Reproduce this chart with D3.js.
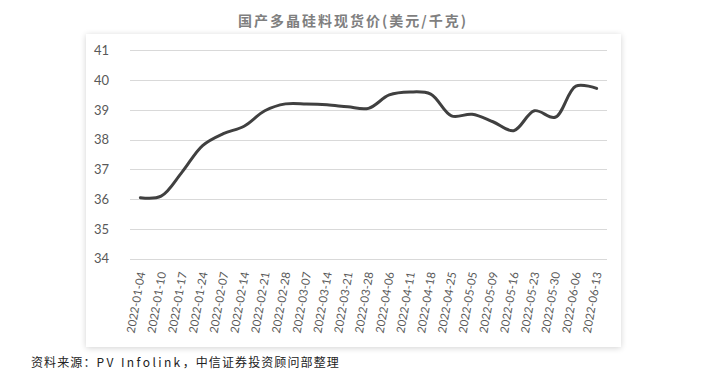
<!DOCTYPE html>
<html>
<head>
<meta charset="utf-8">
<script src="https://cdn.jsdelivr.net/npm/d3@7"></script>
<style>
  body { margin: 0; background: #fff; }
  svg { display: block; }
</style>
</head>
<body>
<svg id="chart" width="711" height="387"></svg>
<script>
  // weekly spot price, USD/kg
  var dates = ['2022-01-04', '2022-01-10', '2022-01-17', '2022-01-24', '2022-02-07', '2022-02-14',
    '2022-02-21', '2022-02-28', '2022-03-07', '2022-03-14', '2022-03-21', '2022-03-28', '2022-04-06',
    '2022-04-11', '2022-04-18', '2022-04-25', '2022-05-05', '2022-05-09', '2022-05-16', '2022-05-23',
    '2022-05-30', '2022-06-06', '2022-06-13'];
  var prices = [36.05, 36.1, 36.9, 37.8, 38.2, 38.45, 38.97, 39.2, 39.2, 39.17, 39.1, 39.05, 39.5,
    39.6, 39.53, 38.8, 38.85, 38.6, 38.3, 38.97, 38.75, 39.8, 39.72];
  var yTicks = [34, 35, 36, 37, 38, 39, 40, 41];
  var title = '国产多晶硅料现货价(美元/千克)';
  var sourceParts = ['资料来源：', 'PV Infolink', '，中信证券投资顾问部整理'];

  var svg = d3.select('#chart');

  // soft shadow for the card
  var defs = svg.append('defs');
  var f = defs.append('filter').attr('id', 'shadow')
      .attr('x', '-5%').attr('y', '-5%').attr('width', '110%').attr('height', '110%');
  f.append('feGaussianBlur').attr('in', 'SourceAlpha').attr('stdDeviation', 3);
  f.append('feOffset').attr('dx', 0).attr('dy', 1).attr('result', 'b');
  f.append('feComponentTransfer').append('feFuncA').attr('type', 'linear').attr('slope', 0.18);
  var m = f.append('feMerge');
  m.append('feMergeNode');
  m.append('feMergeNode').attr('in', 'SourceGraphic');

  svg.append('rect')
      .attr('x', 86).attr('y', 34).attr('width', 535).attr('height', 313)
      .attr('fill', '#fff').attr('filter', 'url(#shadow)');

  svg.append('text')
      .attr('x', 353).attr('y', 26)
      .attr('text-anchor', 'middle')
      .attr('font-family', '"Noto Sans CJK SC", sans-serif')
      .attr('font-size', 14).attr('font-weight', 'bold')
      .attr('letter-spacing', 2)
      .attr('fill', '#7f7f7f')
      .text(title);

  var x = d3.scaleBand().domain(dates).range([130, 607]);
  var y = d3.scaleLinear().domain([34, 41]).range([258.7, 50.3]);

  // gridlines
  svg.append('g').selectAll('line').data(yTicks).enter().append('line')
      .attr('x1', 130).attr('x2', 607)
      .attr('y1', function (d) { return Math.round(y(d)) + 0.5; })
      .attr('y2', function (d) { return Math.round(y(d)) + 0.5; })
      .attr('stroke', '#d9d9d9').attr('stroke-width', 1);

  // y axis labels
  var yAxis = svg.append('g')
      .attr('transform', 'translate(109,0)')
      .call(d3.axisLeft(y).tickValues(yTicks).tickFormat(d3.format('d')).tickSize(0).tickPadding(0));
  yAxis.select('.domain').remove();
  yAxis.selectAll('text')
      .attr('font-family', 'Lato, sans-serif').attr('font-size', 13)
      .attr('fill', '#595959');

  // x axis labels, nearly vertical
  var xAxis = svg.append('g')
      .attr('transform', 'translate(0,' + 272 + ')')
      .call(d3.axisBottom(x).tickSize(0).tickPadding(0));
  xAxis.select('.domain').remove();
  xAxis.selectAll('text')
      .attr('font-family', 'Lato, sans-serif').attr('font-size', 11.5)
      .attr('fill', '#595959')
      .attr('text-anchor', 'end')
      .attr('y', 0)
      .attr('dy', '0.35em')
      .attr('transform', 'translate(1,0) rotate(-80)');

  var line = d3.line()
      .x(function (d, i) { return x(dates[i]) + x.bandwidth() / 2; })
      .y(function (d) { return y(d); })
      .curve(d3.curveCatmullRom.alpha(0.5));

  svg.append('path')
      .datum(prices)
      .attr('d', line)
      .attr('fill', 'none')
      .attr('stroke', '#404040')
      .attr('stroke-width', 3)
      .attr('stroke-linecap', 'round')
      .attr('stroke-linejoin', 'round');

  var src = svg.append('text')
      .attr('x', 31).attr('y', 367)
      .attr('font-family', '"Noto Sans CJK SC", sans-serif')
      .attr('font-size', 12)
      .attr('fill', '#222');
  src.selectAll('tspan').data(sourceParts).enter().append('tspan')
      .attr('letter-spacing', function (d, i) { return i === 1 ? 2.4 : 1.1; })
      .text(function (d) { return d; });
</script>
</body>
</html>
